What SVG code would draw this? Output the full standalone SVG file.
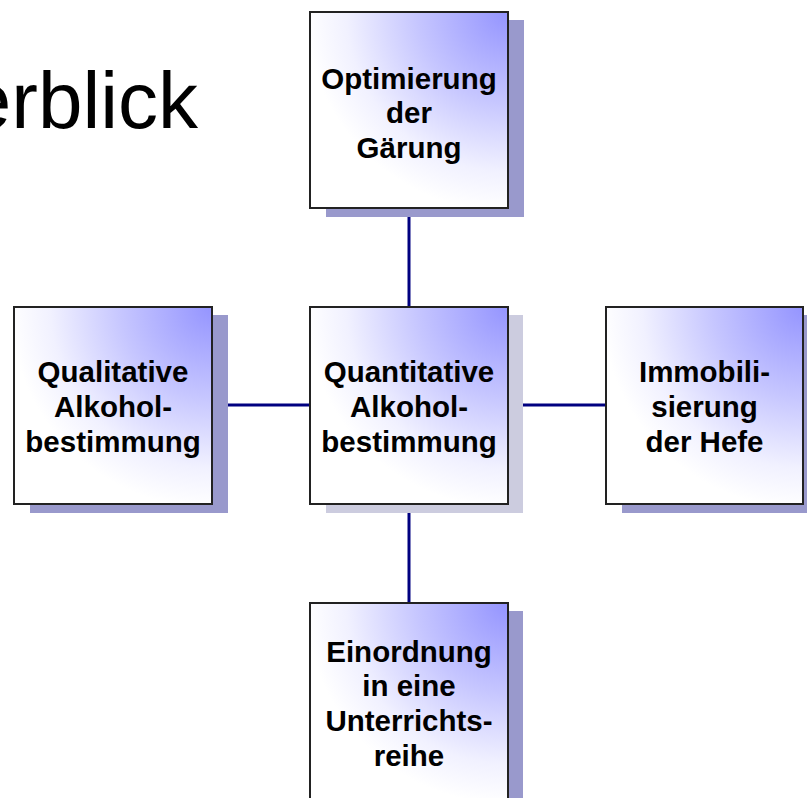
<svg xmlns="http://www.w3.org/2000/svg" width="807" height="798" viewBox="0 0 807 798">
  <defs>
    <radialGradient id="boxfill" cx="1" cy="0" r="1.02" fx="1" fy="0">
      <stop offset="0" stop-color="#9494ff"/>
      <stop offset="0.45" stop-color="#c6c6ff"/>
      <stop offset="0.8" stop-color="#f1f1ff"/>
      <stop offset="1" stop-color="#ffffff"/>
    </radialGradient>
  </defs>
  <style>
    .box { fill: url(#boxfill); stroke: #222222; stroke-width: 2; }
    .shadow { fill: #9999cc; }
    .shadow-light { fill: #ccccdf; }
    .conn { stroke: #000080; stroke-width: 3; fill: none; }
    .lbl { font-family: "Liberation Sans", Arial, sans-serif; font-weight: bold; font-size: 29.5px; fill: #000000; text-anchor: middle; }
    .title { font-family: "Liberation Sans", Arial, sans-serif; font-size: 80px; fill: #000000; text-anchor: end; }
  </style>
  <rect width="807" height="798" fill="#ffffff"/>
  <text class="title" x="198" y="128">erblick</text>

  <g id="connectors">
    <line class="conn" x1="409" y1="208" x2="409" y2="307"/>
    <line class="conn" x1="409" y1="504" x2="409" y2="603"/>
    <line class="conn" x1="212" y1="405" x2="310" y2="405"/>
    <line class="conn" x1="508" y1="405" x2="606" y2="405"/>
  </g>

  <g id="node-top">
    <rect class="shadow" x="326" y="20" width="198" height="197"/>
    <rect class="box" x="310" y="12" width="198" height="196"/>
    <text class="lbl" x="409" y="89">Optimierung</text>
    <text class="lbl" x="409" y="123">der</text>
    <text class="lbl" x="409" y="158">Gärung</text>
  </g>

  <g id="node-left">
    <rect class="shadow" x="30" y="315" width="198" height="198"/>
    <rect class="box" x="14" y="307" width="198" height="197"/>
    <text class="lbl" x="113" y="382">Qualitative</text>
    <text class="lbl" x="113" y="417">Alkohol-</text>
    <text class="lbl" x="113" y="452">bestimmung</text>
  </g>

  <g id="node-center">
    <rect class="shadow-light" x="326" y="315" width="197" height="198"/>
    <rect class="box" x="310" y="307" width="198" height="197"/>
    <text class="lbl" x="409" y="382">Quantitative</text>
    <text class="lbl" x="409" y="417">Alkohol-</text>
    <text class="lbl" x="409" y="452">bestimmung</text>
  </g>

  <g id="node-right">
    <rect class="shadow" x="622" y="315" width="198" height="198"/>
    <rect class="box" x="606" y="307" width="197" height="197"/>
    <text class="lbl" x="704.5" y="382">Immobili-</text>
    <text class="lbl" x="704.5" y="417">sierung</text>
    <text class="lbl" x="704.5" y="452">der Hefe</text>
  </g>

  <g id="node-bottom">
    <rect class="shadow" x="326" y="611" width="197" height="198"/>
    <rect class="box" x="310" y="603" width="198" height="197"/>
    <text class="lbl" x="409" y="662">Einordnung</text>
    <text class="lbl" x="409" y="696">in eine</text>
    <text class="lbl" x="409" y="731">Unterrichts-</text>
    <text class="lbl" x="409" y="766">reihe</text>
  </g>
</svg>
